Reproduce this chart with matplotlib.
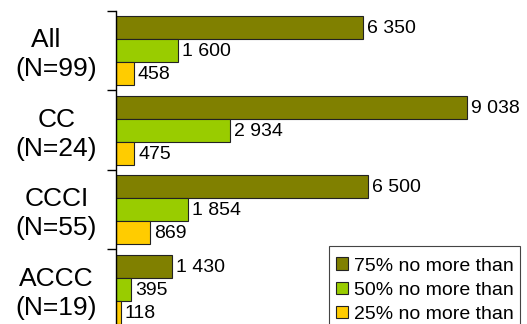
import matplotlib
matplotlib.use("Agg")
import matplotlib.pyplot as plt
import matplotlib.transforms as mtransforms
from matplotlib.patches import Patch, Rectangle

plt.rcParams['font.family'] = ['Liberation Sans', 'DejaVu Sans']

categories = ["All   \n(N=99)", "CC\n(N=24)", "CCCI\n(N=55)", "ACCC\n(N=19)"]
series_names = ["75% no more than", "50% no more than", "25% no more than"]
p75 = [6350, 9038, 6500, 1430]
p50 = [1600, 2934, 1854, 395]
p25 = [458, 475, 869, 118]
colors = ["#808000", "#99CC00", "#FFCC00"]

W, H = 527, 324
fig = plt.figure(figsize=(W / 100, H / 100), dpi=100)
ax = fig.add_axes([0.2201, -0.0154, 0.737, 0.9815])

bar_h = 0.289
offsets = [-bar_h, 0.0, bar_h]
positions = list(range(len(categories)))

for values, off, col in zip([p75, p50, p25], offsets, colors):
    ys = [p + off for p in positions]
    ax.barh(ys, values, height=bar_h, color=col, edgecolor="#222222",
            linewidth=0.8, zorder=2)
    for y, v in zip(ys, values):
        ax.annotate(f"{v:,}".replace(",", " "), xy=(v, y), xytext=(4, -1),
                    textcoords="offset pixels", ha="left", va="center",
                    fontsize=14, color="black")

ax.set_xlim(0, 10000)
ax.set_ylim(len(categories) - 0.5, -0.5)

for s in ["top", "right", "bottom"]:
    ax.spines[s].set_visible(False)
ax.spines["left"].set_linewidth(1.0)
ax.spines["left"].set_color("black")
ax.set_xticks([])

# group separators as outward ticks on the left axis
ax.set_yticks([i - 0.5 for i in range(len(categories) + 1)])
ax.set_yticklabels([])
ax.tick_params(axis="y", direction="out", length=6.5, width=1.0, color="black")

label_tf = mtransforms.blended_transform_factory(fig.transFigure, ax.transData)
label_tf = mtransforms.offset_copy(label_tf, fig=fig, x=0, y=-4, units="dots")
for p, lab in zip(positions, categories):
    ax.text(56.5 / W, p, lab, transform=label_tf, ha="center", va="center",
            fontsize=19, linespacing=1.28, multialignment="center")

handles = [Patch(facecolor=c, edgecolor="#222222", linewidth=0.8) for c in colors]
leg = fig.legend(handles, series_names, loc="upper right",
                 bbox_to_anchor=(520 / W, 1 - 251 / H),
                 fontsize=14, frameon=False,
                 handlelength=0.62, handleheight=0.62, handletextpad=0.32,
                 labelspacing=0.36, borderpad=0.33, borderaxespad=0.0)

# legend box, running off the bottom edge
fig.add_artist(Rectangle((329 / W, -0.05), (520 - 329) / W, (1 - 246 / H) + 0.05,
                         transform=fig.transFigure, fill=False,
                         edgecolor="#444444", linewidth=0.8))

fig.savefig("out.png", dpi=100)
